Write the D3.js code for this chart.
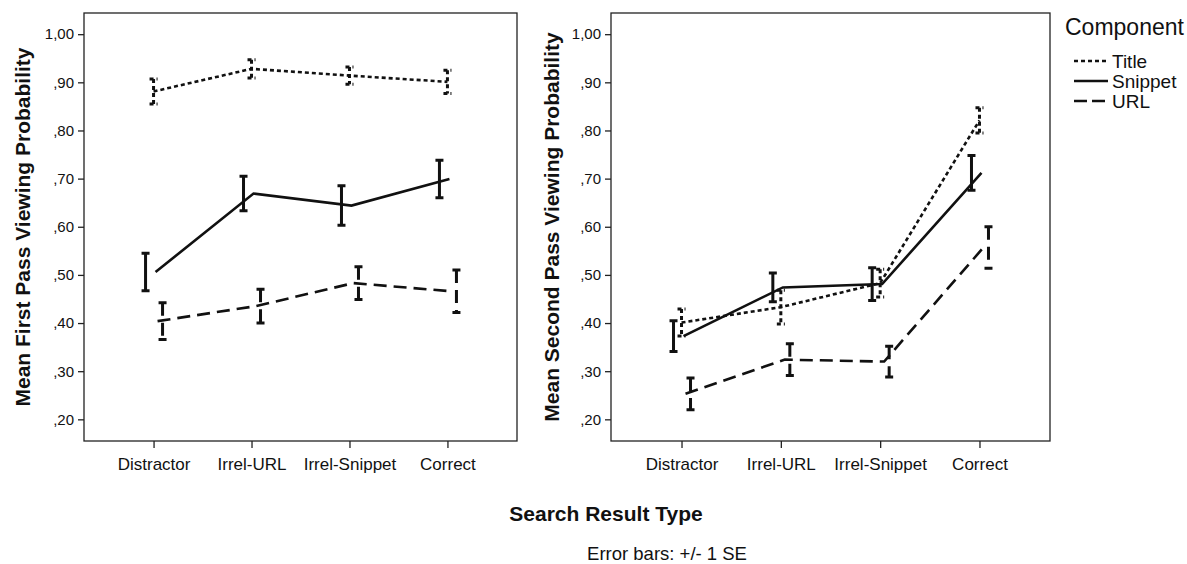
<!DOCTYPE html>
<html>
<head>
<meta charset="utf-8">
<script src="https://cdn.jsdelivr.net/npm/d3@7"></script>
<style>
  body { margin: 0; background: #fff; }
  svg { display: block; font-family: Arial, 'Liberation Sans', sans-serif; }
</style>
</head>
<body>
<div id="chart"></div>
<script>
const categories = ['Distractor', 'Irrel-URL', 'Irrel-Snippet', 'Correct'];
const components = ['Title', 'Snippet', 'URL'];
const yTicks = [0.2, 0.3, 0.4, 0.5, 0.6, 0.7, 0.8, 0.9, 1.0];

// First pass: means and standard errors
const firstTitle = [0.881, 0.928, 0.914, 0.901];
const firstTitleSE = [0.026, 0.019, 0.018, 0.024];
const firstSnippet = [0.506, 0.669, 0.644, 0.699];
const firstSnippetSE = [0.039, 0.036, 0.041, 0.039];
const firstUrl = [0.404, 0.435, 0.483, 0.466];
const firstUrlSE = [0.038, 0.035, 0.034, 0.044];

// Second pass
const secondTitle = [0.401, 0.433, 0.483, 0.821];
const secondTitleSE = [0.028, 0.035, 0.029, 0.026];
const secondSnippet = [0.373, 0.474, 0.481, 0.712];
const secondSnippetSE = [0.032, 0.030, 0.034, 0.036];
const secondUrl = [0.253, 0.324, 0.320, 0.557];
const secondUrlSE = [0.033, 0.033, 0.032, 0.043];

const W = 1187, H = 564;
const ink = '#111';

// line styling per component
const dash = { Title: '4,3', Snippet: null, URL: '13,7' };
const barDx = { Title: 0, Snippet: -8, URL: 9 }; // error bar dodge
const lineDx = { Title: 0, Snippet: 2, URL: 4 };

const fmt = (v) => {
  const s = d3.format('.2f')(v).replace('.', ',');
  return s.startsWith('0,') ? s.slice(1) : s;
};

const svg = d3.select('#chart').append('svg').attr('width', W).attr('height', H);

function renderPanel(cfg) {
  const x = d3.scalePoint().domain(categories).range([cfg.left, cfg.right]).padding(0.71);
  const y = d3.scaleLinear().domain([0.155, 1.044]).range([441, 13]);
  const g = svg.append('g');

  // frame
  g.append('rect')
    .attr('x', cfg.left)
    .attr('y', y.range()[1])
    .attr('width', cfg.right - cfg.left)
    .attr('height', y.range()[0] - y.range()[1])
    .attr('fill', 'none')
    .attr('stroke', '#222')
    .attr('stroke-width', 1.3);

  // y axis
  const ya = g.append('g')
    .attr('transform', `translate(${cfg.left},0)`)
    .call(d3.axisLeft(y).tickValues(yTicks).tickFormat(fmt).tickSize(6).tickSizeOuter(0).tickPadding(4));
  ya.select('.domain').remove();
  ya.selectAll('line').attr('stroke', '#222').attr('stroke-width', 1.3);
  ya.selectAll('text').attr('font-size', '15px').attr('fill', ink).attr('font-family', 'Arial, Liberation Sans, sans-serif');

  // x axis
  const xa = g.append('g')
    .attr('transform', `translate(0,${y.range()[0]})`)
    .call(d3.axisBottom(x).tickSize(7).tickSizeOuter(0).tickPadding(10));
  xa.select('.domain').remove();
  xa.selectAll('line').attr('stroke', '#222').attr('stroke-width', 1.3);
  xa.selectAll('text').attr('font-size', '17px').attr('fill', ink).attr('font-family', 'Arial, Liberation Sans, sans-serif');

  // y title
  g.append('text')
    .attr('transform', `translate(${cfg.titleX},${(y.range()[0] + y.range()[1]) / 2}) rotate(-90)`)
    .attr('text-anchor', 'middle')
    .attr('dominant-baseline', 'central')
    .attr('font-size', '21px')
    .attr('font-weight', 'bold')
    .attr('fill', ink)
    .text(cfg.yTitle);

  cfg.series.forEach((s) => {
    const pts = categories.map((c, i) => ({ c, m: s.mean[i], se: s.se[i] }));

    // error bars
    const bars = g.append('g');
    pts.forEach((d) => {
      const bx = x(d.c) + barDx[s.name];
      const y0 = y(d.m + d.se), y1 = y(d.m - d.se);
      const path = `M${bx - 4},${y0}H${bx + 4}M${bx},${y0}V${y1}M${bx - 4},${y1}H${bx + 4}`;
      bars.append('path')
        .attr('d', path)
        .attr('fill', 'none')
        .attr('stroke', ink)
        .attr('stroke-width', 3)
        .attr('stroke-dasharray', dash[s.name]);
    });

    // mean line
    const line = d3.line().x((d) => x(d.c) + lineDx[s.name]).y((d) => y(d.m));
    g.append('path')
      .datum(pts)
      .attr('d', line)
      .attr('fill', 'none')
      .attr('stroke', ink)
      .attr('stroke-width', 2.6)
      .attr('stroke-dasharray', dash[s.name]);
  });
}

renderPanel({
  left: 84,
  right: 517,
  titleX: 22,
  yTitle: 'Mean First Pass Viewing Probability',
  series: [
    { name: 'Title', mean: firstTitle, se: firstTitleSE },
    { name: 'Snippet', mean: firstSnippet, se: firstSnippetSE },
    { name: 'URL', mean: firstUrl, se: firstUrlSE },
  ],
});

renderPanel({
  left: 611,
  right: 1050,
  titleX: 551,
  yTitle: 'Mean Second Pass Viewing Probability',
  series: [
    { name: 'Title', mean: secondTitle, se: secondTitleSE },
    { name: 'Snippet', mean: secondSnippet, se: secondSnippetSE },
    { name: 'URL', mean: secondUrl, se: secondUrlSE },
  ],
});

// Legend
const legend = svg.append('g').attr('transform', 'translate(1065,0)');
legend.append('text')
  .attr('x', 0)
  .attr('y', 27)
  .attr('dominant-baseline', 'central')
  .attr('font-size', '23px')
  .attr('fill', ink)
  .text('Component');

components.forEach((name, i) => {
  const ly = 61 + i * 20;
  legend.append('line')
    .attr('x1', 9).attr('x2', 43)
    .attr('y1', ly).attr('y2', ly)
    .attr('stroke', ink)
    .attr('stroke-width', 2.6)
    .attr('stroke-dasharray', dash[name] === '13,7' ? '13,5' : dash[name]);
  legend.append('text')
    .attr('x', 47)
    .attr('y', ly)
    .attr('dominant-baseline', 'central')
    .attr('font-size', '19px')
    .attr('fill', ink)
    .text(name);
});

// Shared footer texts
svg.append('text')
  .attr('x', 606)
  .attr('y', 513)
  .attr('text-anchor', 'middle')
  .attr('dominant-baseline', 'central')
  .attr('font-size', '21px')
  .attr('font-weight', 'bold')
  .attr('fill', ink)
  .text('Search Result Type');

svg.append('text')
  .attr('x', 667)
  .attr('y', 553)
  .attr('text-anchor', 'middle')
  .attr('dominant-baseline', 'central')
  .attr('font-size', '18.5px')
  .attr('fill', ink)
  .text('Error bars: +/- 1 SE');
</script>
</body>
</html>
